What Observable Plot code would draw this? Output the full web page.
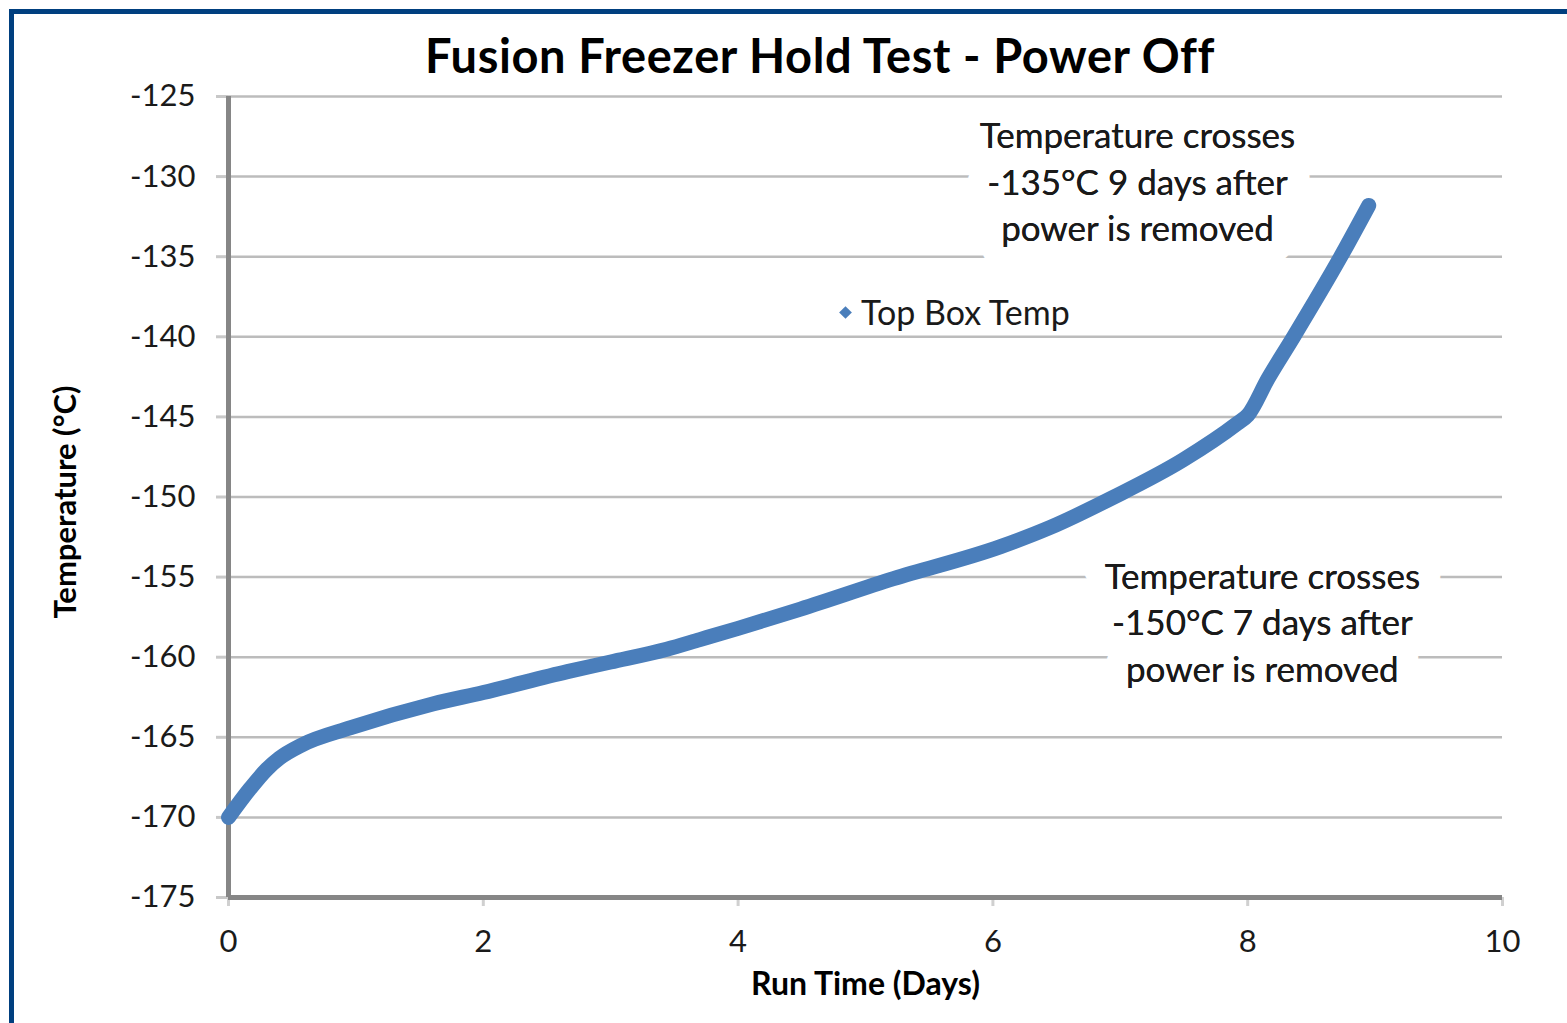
<!DOCTYPE html>
<html>
<head>
<meta charset="utf-8">
<script src="https://cdn.jsdelivr.net/npm/d3@7"></script>
<script src="https://cdn.jsdelivr.net/npm/@observablehq/plot@0.6"></script>
<style>
  html, body { margin: 0; padding: 0; background: #fff; }
  #wrap { position: relative; width: 1567px; height: 1023px; overflow: hidden; font-family: Lato, sans-serif; }
  #frame { position: absolute; left: 9px; top: 9px; width: 1700px; height: 1200px; border-top: 5px solid #003f7f; border-left: 5px solid #003f7f; box-sizing: border-box; }
  #chart { position: absolute; left: 0; top: 0; }
  #title { position: absolute; left: 820px; top: 27px; transform: translateX(-50%); white-space: nowrap; font-weight: bold; font-size: 47px; letter-spacing: 0.6px; color: #000; line-height: 56px; }
  #legend { position: absolute; left: 838px; top: 292px; display: flex; align-items: center; font-size: 34px; color: #1a1a1a; line-height: 40px; white-space: nowrap; }
  #legend .sw { width: 9px; height: 9px; background: #4a7ebb; transform: rotate(45deg); margin: 0 11px 0 3px; }
</style>
</head>
<body>
<div id="wrap">
  <div id="frame"></div>
  <div id="chart"></div>
  <div id="title">Fusion Freezer Hold Test - Power Off</div>
  <div id="legend"><span class="sw"></span><span>Top Box Temp</span></div>
</div>
<script>
// Run time (days) and top box temperature (°C)
const days  = [0, 0.17, 0.30, 0.40, 0.57, 0.96, 1.61, 2.00, 2.66, 3.00, 3.44, 3.70, 4.00, 4.49, 5.22, 6.06, 6.45, 6.95, 7.49, 7.92, 8.00, 8.16, 8.36, 8.73, 8.95];
const temps = [-170, -168.2, -167.0, -166.3, -165.5, -164.4, -162.9, -162.2, -160.9, -160.3, -159.5, -158.9, -158.2, -157.0, -155.1, -153.1, -151.9, -150.0, -147.7, -145.4, -144.9, -142.6, -140.0, -135.0, -131.8];

const xTicks = [0, 2, 4, 6, 8, 10];
const yTicks = [-175, -170, -165, -160, -155, -150, -145, -140, -135, -130, -125];

// annotations (position in data units)
const noteX = [7.135, 8.115];
const noteY = [-130.2, -157.7];
const noteText = [
  "Temperature crosses\n-135°C 9 days after\npower is removed",
  "Temperature crosses\n-150°C 7 days after\npower is removed"
];

const seriesName = "Top Box Temp";
const xLabel = "Run Time (Days)";
const yLabel = "Temperature (°C)";

const data = days.map((d, i) => ({day: d, temp: temps[i]}));
const notes = noteX.map((x, i) => ({x, y: noteY[i], text: noteText[i]}));

const chart = Plot.plot({
  width: 1567,
  height: 1023,
  marginLeft: 228,
  marginRight: 65,
  marginTop: 96,
  marginBottom: 126,
  style: {fontFamily: "Lato, sans-serif", background: "transparent", color: "#1a1a1a"},
  x: {domain: [0, 10], ticks: xTicks},
  y: {domain: [-175, -125], ticks: yTicks},
  marks: [
    Plot.gridY(yTicks, {stroke: "#bcbcbc", strokeOpacity: 1, strokeWidth: 2.5}),
    Plot.axisY(yTicks, {tickSize: 12, tickPadding: 21, stroke: "#c8c8c8", strokeWidth: 3, fontSize: 31, label: null, tickFormat: d => String(d)}),
    Plot.axisX(xTicks, {tickSize: 9, tickPadding: 23, stroke: "#d0d0d0", strokeWidth: 3, fontSize: 31, label: null, tickFormat: d => String(d)}),
    Plot.ruleX([0], {stroke: "#868686", strokeWidth: 5}),
    Plot.ruleY([-175], {stroke: "#868686", strokeWidth: 5}),
    Plot.line(data, {x: "day", y: "temp", stroke: "#4a7ebb", strokeWidth: 15, curve: "monotone-x", strokeLinecap: "round", strokeLinejoin: "round"}),
    Plot.text(notes, {x: "x", y: "y", text: "text", fontSize: 35, lineHeight: 1.33, fill: "#1a1a1a", stroke: "white", strokeWidth: 44, strokeLinejoin: "round"}),
    Plot.text(notes, {x: "x", y: "y", text: "text", fontSize: 35, lineHeight: 1.33, fill: "#1a1a1a"}),
    Plot.text([xLabel], {text: d => d, frameAnchor: "bottom", dy: 97, fontSize: 32, fontWeight: "bold", fill: "#000"}),
    Plot.text([yLabel], {text: d => d, frameAnchor: "left", textAnchor: "middle", dx: -162, dy: 5, rotate: -90, fontSize: 31, fontWeight: "bold", fill: "#000"})
  ]
});
document.getElementById("chart").appendChild(chart);
</script>
</body>
</html>
